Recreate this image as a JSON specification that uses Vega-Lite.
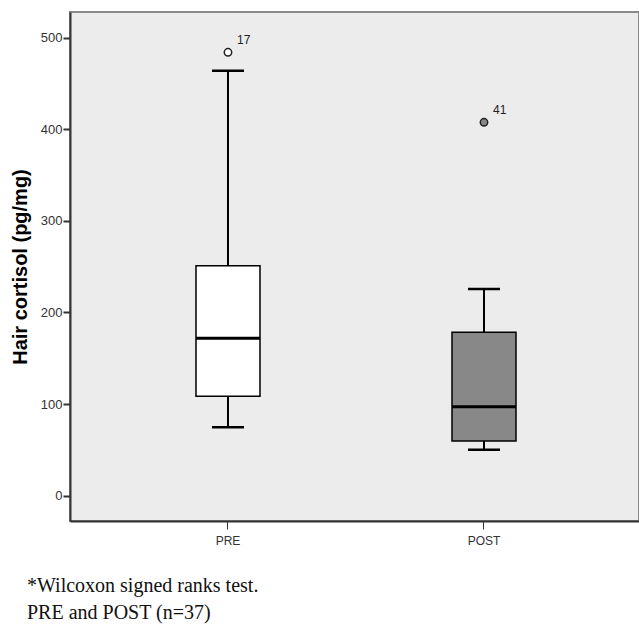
{
  "$schema": "https://vega.github.io/schema/vega-lite/v6.json",
  "autosize": {"type": "none"},
  "padding": {"left": 70, "top": 12, "right": 0, "bottom": 109},
  "width": 569,
  "height": 509,
  "background": "white",
  "config": {
    "view": {"fill": "#ececec", "stroke": "#8a8a8a", "strokeWidth": 2},
    "axis": {"labelFont": "Liberation Sans", "titleFont": "Liberation Sans", "labelColor": "#333333", "domainColor": "#333333", "tickColor": "#333333", "grid": false}
  },
  "title": {
    "text": ["*Wilcoxon signed ranks test.", "\u00a0PRE and POST (n=37)"],
    "orient": "bottom",
    "anchor": "start",
    "frame": "group",
    "dx": -43,
    "offset": 30,
    "font": "Liberation Serif",
    "fontSize": 20,
    "fontWeight": "normal",
    "lineHeight": 27,
    "color": "#111111"
  },
  "data": {
    "values": [
      {"group": "PRE", "lo": 74.7, "q1": 108.5, "med": 171.8, "q3": 251, "hi": 464},
      {"group": "POST", "lo": 50.2, "q1": 59.7, "med": 97.2, "q3": 178.4, "hi": 225.7}
    ]
  },
  "encoding": {
    "x": {
      "field": "group",
      "type": "nominal",
      "sort": ["PRE", "POST"],
      "scale": {"paddingInner": 0.75, "paddingOuter": 0.4863, "align": 0.506},
      "axis": {"title": null, "labelAngle": 0, "labelFontSize": 12, "tickSize": 8, "domainWidth": 2, "labelPadding": 6}
    }
  },
  "layer": [
    {
      "mark": {"type": "rule", "color": "black", "strokeWidth": 2},
      "encoding": {
        "y": {
          "field": "lo",
          "type": "quantitative",
          "scale": {"domain": [-27.6, 528], "nice": false, "zero": false},
          "axis": {
            "title": "Hair cortisol (pg/mg)",
            "titleFontSize": 20,
            "titleFontWeight": "bold",
            "titleColor": "black",
            "titlePadding": 10,
            "values": [0, 100, 200, 300, 400, 500],
            "labelFontSize": 13,
            "tickSize": 7,
            "tickWidth": 2,
            "domainWidth": 2,
            "labelPadding": 1
          }
        },
        "y2": {"field": "hi"}
      }
    },
    {
      "mark": {"type": "bar", "stroke": "black", "strokeWidth": 1.5, "width": 64},
      "encoding": {
        "y": {"field": "q1", "type": "quantitative"},
        "y2": {"field": "q3"},
        "color": {"field": "group", "type": "nominal", "scale": {"domain": ["PRE", "POST"], "range": ["#ffffff", "#888888"]}, "legend": null}
      }
    },
    {
      "mark": {"type": "tick", "color": "black", "thickness": 3, "size": 64, "opacity": 1},
      "encoding": {"y": {"field": "med", "type": "quantitative"}}
    },
    {
      "mark": {"type": "tick", "color": "black", "thickness": 2.5, "size": 32, "opacity": 1},
      "encoding": {"y": {"field": "lo", "type": "quantitative"}}
    },
    {
      "mark": {"type": "tick", "color": "black", "thickness": 2.5, "size": 32, "opacity": 1},
      "encoding": {"y": {"field": "hi", "type": "quantitative"}}
    },
    {
      "data": {"values": [
        {"group": "PRE", "value": 484, "id": "17"},
        {"group": "POST", "value": 407.6, "id": "41"}
      ]},
      "layer": [
        {
          "mark": {"type": "point", "filled": true, "size": 55, "stroke": "#222222", "strokeWidth": 1.5, "opacity": 1},
          "encoding": {
            "y": {"field": "value", "type": "quantitative"},
            "fill": {"field": "group", "type": "nominal", "scale": {"domain": ["PRE", "POST"], "range": ["#ffffff", "#888888"]}, "legend": null}
          }
        },
        {
          "mark": {"type": "text", "dx": 9, "dy": -12, "align": "left", "font": "Liberation Sans", "fontSize": 12, "color": "#222222"},
          "encoding": {
            "y": {"field": "value", "type": "quantitative"},
            "text": {"field": "id"}
          }
        }
      ]
    }
  ]
}
